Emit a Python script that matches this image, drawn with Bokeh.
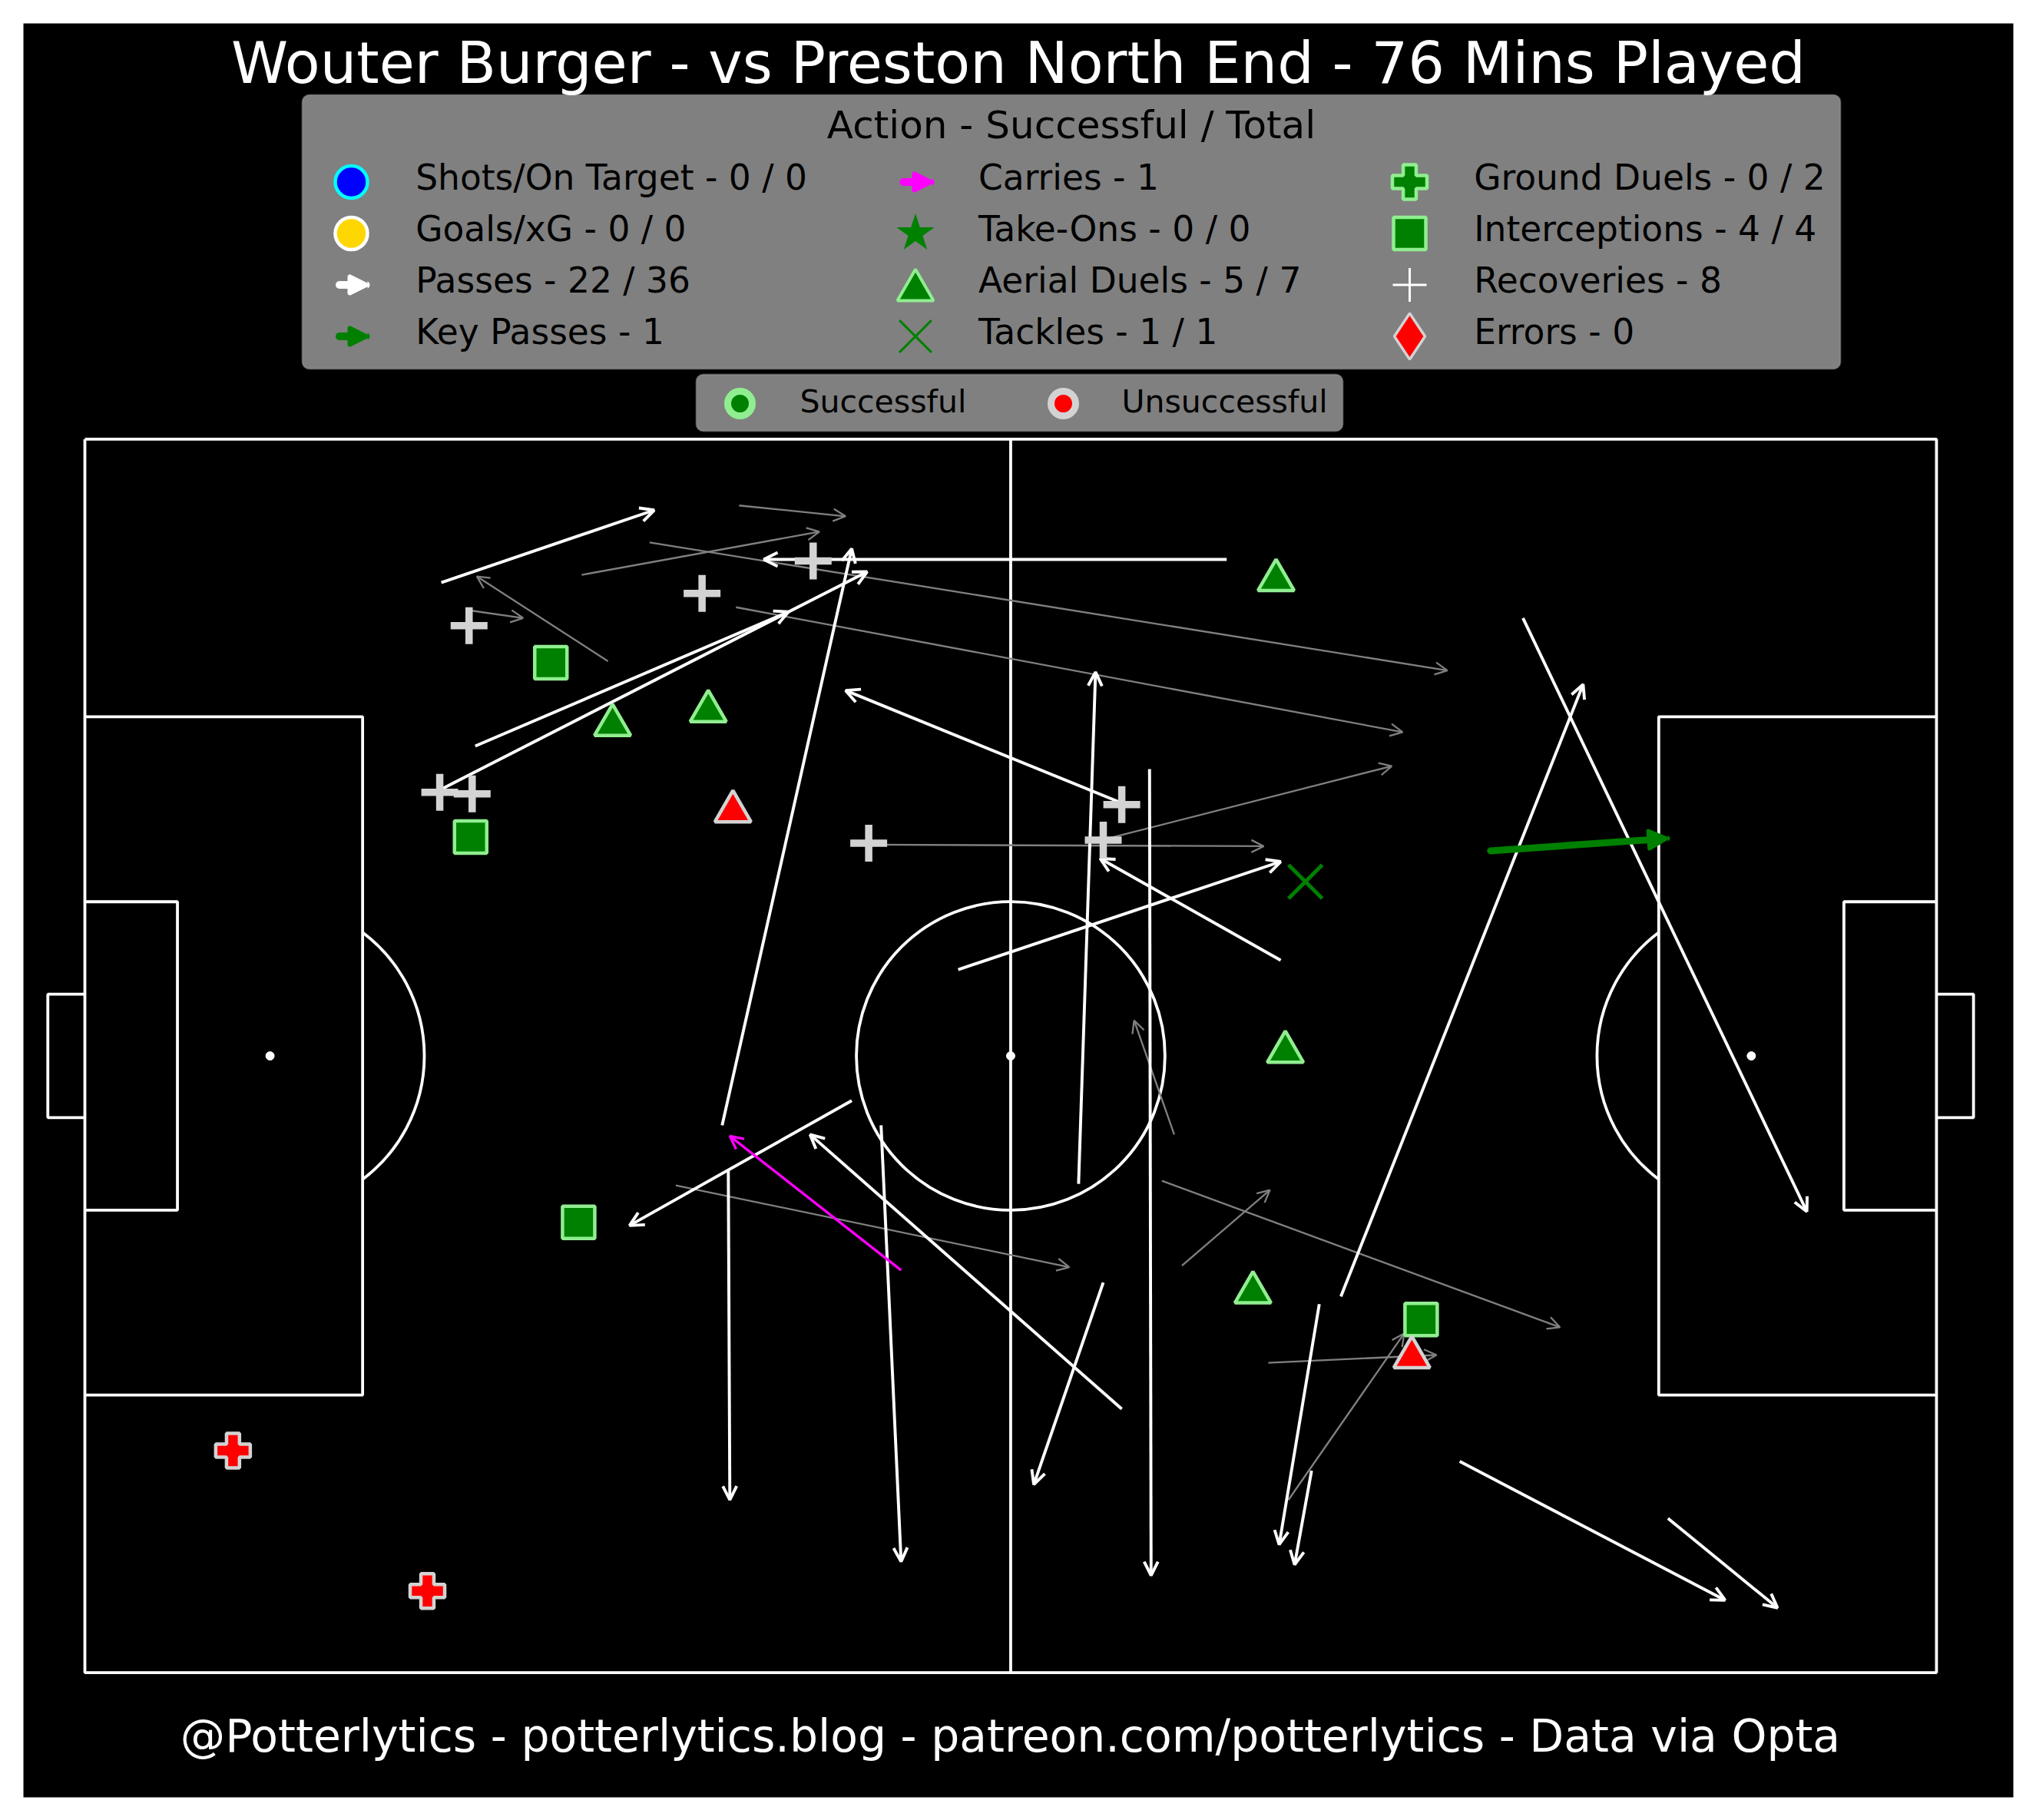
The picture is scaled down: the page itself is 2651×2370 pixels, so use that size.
"""Player action map: Wouter Burger vs Preston North End."""

from math import pi

from bokeh.core.properties import value
from bokeh.embed import file_html
from bokeh.models import (Arrow, BoxAnnotation, ColumnDataSource, NormalHead,
                          OpenHead, Range1d)
from bokeh.plotting import figure
from bokeh.resources import INLINE
from bokeh.transform import dodge

PLAYER = "Wouter Burger"
OPPONENT = "Preston North End"
MINUTES = 76
FOOTER = "@Potterlytics - potterlytics.blog - patreon.com/potterlytics - Data via Opta"

# event locations in StatsBomb pitch units (120 x 80, y grows downward)
pass_ok_x0 = [23.1, 74.0, 25.3, 23.1, 41.3, 67.2, 64.4, 69.0, 56.6, 77.5, 93.2,
              81.4, 49.7, 41.7, 51.6, 67.2, 66.0, 80.0, 79.5, 89.1, 102.6]
pass_ok_y0 = [9.3, 7.8, 19.9, 22.7, 44.5, 23.6, 48.3, 21.4, 34.4, 33.8, 11.6,
              55.6, 42.9, 47.4, 44.5, 62.9, 54.7, 56.1, 66.9, 66.3, 70.0]
pass_ok_x1 = [36.9, 44.0, 45.6, 50.7, 49.7, 49.3, 65.5, 69.1, 77.5, 65.8, 111.6,
              97.1, 35.3, 41.8, 52.9, 47.0, 61.5, 77.4, 78.4, 106.3, 109.7]
pass_ok_y1 = [4.6, 7.8, 11.2, 8.6, 7.1, 16.3, 15.1, 73.7, 27.4, 27.2, 50.1,
              15.9, 51.0, 68.8, 72.8, 45.1, 67.8, 71.7, 73.0, 75.3, 75.8]

pass_fail_x0 = [42.4, 32.2, 36.6, 42.2, 33.9, 24.9, 50.7, 65.9, 38.3, 70.6, 69.8,
                71.1, 76.7, 78.0]
pass_fail_y0 = [4.3, 8.8, 6.7, 10.9, 14.4, 11.1, 26.3, 26.0, 48.4, 45.1, 48.1,
                53.6, 59.9, 68.8]
pass_fail_x1 = [49.3, 47.6, 88.3, 85.4, 25.4, 28.4, 76.4, 84.7, 63.8, 68.0, 95.6,
                76.8, 87.6, 85.5]
pass_fail_y1 = [5.0, 6.0, 15.0, 19.0, 8.9, 11.6, 26.4, 21.2, 53.7, 37.7, 57.6,
                48.7, 59.4, 58.0]

key_pass_x0 = [91.1]
key_pass_y0 = [26.7]
key_pass_x1 = [102.5]
key_pass_y1 = [25.9]

carry_x0 = [52.9]
carry_y0 = [53.9]
carry_x1 = [41.8]
carry_y1 = [45.2]

recovery_x = [47.2, 40.0, 24.9, 23.0, 25.1, 50.8, 67.2, 66.0]
recovery_y = [7.9, 10.0, 12.1, 22.9, 23.0, 26.2, 23.7, 26.0]

interception_x = [30.2, 25.0, 32.0, 86.6]
interception_y = [14.5, 25.8, 50.8, 57.1]

aerial_won_x = [77.2, 34.2, 40.4, 77.8, 75.7]
aerial_won_y = [8.8, 18.2, 17.3, 39.4, 55.0]
aerial_lost_x = [42.0, 86.0]
aerial_lost_y = [23.8, 59.2]

tackle_won_x = [79.1]
tackle_won_y = [28.7]
tackle_lost_x = []

ground_won_x = []
ground_lost_x = [9.6, 22.2]
ground_lost_y = [65.6, 74.7]

shots_x, shots_on_target = [], 0
goals, xg = 0, 0
take_on_won_x, take_on_lost_x = [], []
errors_x = []

n_pass_ok = len(pass_ok_x0) + len(key_pass_x0)
n_pass = n_pass_ok + len(pass_fail_x0)
legend_col1 = [
    f"Shots/On Target - {len(shots_x)} / {shots_on_target}",
    f"Goals/xG - {goals} / {xg}",
    f"Passes - {n_pass_ok} / {n_pass}",
    f"Key Passes - {len(key_pass_x0)}",
]
legend_col2 = [
    f"Carries - {len(carry_x0)}",
    f"Take-Ons - {len(take_on_won_x)} / {len(take_on_won_x) + len(take_on_lost_x)}",
    f"Aerial Duels - {len(aerial_won_x)} / {len(aerial_won_x) + len(aerial_lost_x)}",
    f"Tackles - {len(tackle_won_x)} / {len(tackle_won_x) + len(tackle_lost_x)}",
]
legend_col3 = [
    f"Ground Duels - {len(ground_won_x)} / {len(ground_won_x) + len(ground_lost_x)}",
    f"Interceptions - {len(interception_x)} / {len(interception_x)}",
    f"Recoveries - {len(recovery_x)}",
    f"Errors - {len(errors_x)}",
]

FONT = value("DejaVu Sans")
GREEN, LIGHTGREEN = "#008000", "#90ee90"
LIGHTGREY, GREY = "#d3d3d3", "#808080"

# page pixels <-> pitch units
SX, SY = 20.091, 20.0775
PX0, PY0 = 110.0, 571.4


def ux(px):
    return (px - PX0) / SX


def uy(py):
    return (py - PY0) / SY


def text_y(baseline, size):
    # bokeh places the text about a third of the font size lower than asked
    return uy(baseline - 0.36 * size)


p = figure(
    width=2640, height=2360,
    x_range=Range1d(ux(30), ux(2621)), y_range=Range1d(uy(2340), uy(30)),
    min_border_left=30, min_border_top=30, min_border_right=19, min_border_bottom=20,
    x_axis_location=None, y_axis_location=None,
    background_fill_color="black", border_fill_color="white",
    outline_line_color=None, toolbar_location=None, output_backend="svg",
)
p.xgrid.visible = False
p.ygrid.visible = False

# pitch
line = dict(line_color="white", line_width=3.8, level="underlay")
p.multi_line(
    xs=[[0, 120, 120, 0, 0], [60, 60], [0, 18, 18, 0], [120, 102, 102, 120],
        [0, 6, 6, 0], [120, 114, 114, 120], [0, -2.4, -2.4, 0], [120, 122.4, 122.4, 120]],
    ys=[[0, 0, 80, 80, 0], [0, 80], [18, 18, 62, 62], [18, 18, 62, 62],
        [30, 30, 50, 50], [30, 30, 50, 50], [36, 36, 44, 44], [36, 36, 44, 44]],
    **line,
)
arc_a = 0.9273
p.arc(x=[60, 12, 108], y=[40, 40, 40], radius=10,
      start_angle=[0, -arc_a, pi - arc_a], end_angle=[2 * pi, arc_a, pi + arc_a], **line)
p.scatter(x=[12, 60, 108], y=[40, 40, 40], size=11, color="white", level="underlay")


def add_arrows(x0, y0, x1, y1, color, width, head, cap="butt"):
    src = ColumnDataSource(dict(x0=x0, y0=y0, x1=x1, y1=y1))
    p.add_layout(Arrow(x_start="x0", y_start="y0", x_end="x1", y_end="y1", source=src,
                       line_color=color, line_width=width, line_cap=cap, end=head,
                       level="underlay"))


add_arrows(pass_fail_x0, pass_fail_y0, pass_fail_x1, pass_fail_y1, GREY, 2.3,
           OpenHead(size=16, line_color=GREY, line_width=2.3))
add_arrows(pass_ok_x0, pass_ok_y0, pass_ok_x1, pass_ok_y1, "white", 3.9,
           OpenHead(size=18, line_color="white", line_width=3.9))
add_arrows(carry_x0, carry_y0, carry_x1, carry_y1, "magenta", 3.3,
           OpenHead(size=17, line_color="magenta", line_width=3.3))
add_arrows(key_pass_x0, key_pass_y0, key_pass_x1, key_pass_y1, GREEN, 9,
           NormalHead(size=23, fill_color=GREEN, line_color=GREEN, line_width=5,
                      line_join="round"), cap="round")

# events
p.scatter(recovery_x, recovery_y, marker="cross", size=48, line_color=LIGHTGREY, line_width=9.5)
p.scatter(interception_x, interception_y, marker="square", size=42,
          fill_color=GREEN, line_color=LIGHTGREEN, line_width=4.5)
src_won = ColumnDataSource(dict(x=aerial_won_x, y=aerial_won_y))
p.scatter("x", dodge("y", 0.34), source=src_won, marker="triangle", size=47,
          fill_color=GREEN, line_color=LIGHTGREEN, line_width=4.5)
src_lost = ColumnDataSource(dict(x=aerial_lost_x, y=aerial_lost_y))
p.scatter("x", dodge("y", 0.34), source=src_lost, marker="triangle", size=47,
          fill_color="red", line_color=LIGHTGREY, line_width=4.5)
p.scatter(tackle_won_x, tackle_won_y, marker="x", size=62, line_color=GREEN, line_width=5)
p.scatter(ground_lost_x, ground_lost_y, marker="plus", size=45,
          fill_color="red", line_color=LIGHTGREY, line_width=4.5)

# title and footer
p.text(x=[ux(1325.5)], y=[text_y(108.5, 75)],
       text=[f"{PLAYER} - vs {OPPONENT} - {MINUTES} Mins Played"],
       text_font=FONT, text_font_size="75px", text_color="white",
       text_align="center", text_baseline="alphabetic")
p.text(x=[ux(1315)], y=[text_y(2282, 58.4)], text=[FOOTER],
       text_font=FONT, text_font_size="58.4px", text_color="white",
       text_align="center", text_baseline="alphabetic")

# main legend
p.add_layout(BoxAnnotation(left=ux(393), right=ux(2396), top=uy(123), bottom=uy(480),
                           fill_color=GREY, fill_alpha=1, line_color="#b3b3b3",
                           line_width=2, border_radius=9, level="underlay"))
p.text(x=[ux(1394.5)], y=[text_y(180, 50)], text=["Action - Successful / Total"],
       text_font=FONT, text_font_size="50px", text_color="black",
       text_align="center", text_baseline="alphabetic")

rows = [236.5, 303.5, 370.5, 437.5]
col_marker = [457, 1191.5, 1835]
col_text = [540.7, 1273.5, 1918.7]
for cx, labels in zip(col_text, [legend_col1, legend_col2, legend_col3]):
    p.text(x=[ux(cx)] * 4, y=[text_y(r + 10.8, 45.5) for r in rows], text=labels,
           text_font=FONT, text_font_size="45.5px", text_color="black",
           text_align="left", text_baseline="alphabetic")

m1, m2, m3 = (ux(c) for c in col_marker)
p.scatter([m1], [uy(rows[0])], marker="circle", size=42,
          fill_color="blue", line_color="cyan", line_width=4.5)
p.scatter([m1], [uy(rows[1])], marker="circle", size=42,
          fill_color="#ffd700", line_color="white", line_width=4.5)


def legend_arrow(x0, x1, y, color):
    p.add_layout(Arrow(x_start=ux(x0), y_start=uy(y), x_end=ux(x1), y_end=uy(y),
                       line_color=color, line_width=10, line_cap="round",
                       end=NormalHead(size=21, fill_color=color, line_color=color,
                                      line_width=6, line_join="round"),
                       level="underlay"))


legend_arrow(441.5, 476, rows[2], "white")
legend_arrow(441.5, 476, rows[3], GREEN)
legend_arrow(1176, 1211, rows[0], "magenta")

p.scatter([m2], [uy(rows[1])], marker="star", size=52, fill_color=GREEN, line_color=None)
p.scatter([m2], [uy(rows[2]) + 0.34], marker="triangle", size=47,
          fill_color=GREEN, line_color=LIGHTGREEN, line_width=4)
p.scatter([m2], [uy(rows[3])], marker="x", size=59, line_color=GREEN, line_width=3)

p.scatter([m3], [uy(rows[0])], marker="plus", size=45,
          fill_color=GREEN, line_color=LIGHTGREEN, line_width=4.5)
p.scatter([m3], [uy(rows[1])], marker="square", size=42,
          fill_color=GREEN, line_color=LIGHTGREEN, line_width=4.5)
p.scatter([m3], [uy(rows[2])], marker="cross", size=44, line_color="white", line_width=3)
p.scatter([m3], [uy(rows[3])], marker="diamond", size=60,
          fill_color="red", line_color=LIGHTGREY, line_width=3.5)

# outcome legend
p.add_layout(BoxAnnotation(left=ux(906), right=ux(1748), top=uy(487), bottom=uy(561),
                           fill_color=GREY, fill_alpha=1, line_color="#b3b3b3",
                           line_width=2, border_radius=9, level="underlay"))
p.scatter([ux(963), ux(1384)], [uy(525)] * 2, marker="circle", size=32,
          fill_color=[GREEN, "red"], line_color=[LIGHTGREEN, LIGHTGREY], line_width=9)
p.text(x=[ux(1041), ux(1460)], y=[text_y(537, 41)] * 2, text=["Successful", "Unsuccessful"],
       text_font=FONT, text_font_size="41px", text_color="black",
       text_align="left", text_baseline="alphabetic")

open("out.html", "w").write(file_html(p, INLINE))
